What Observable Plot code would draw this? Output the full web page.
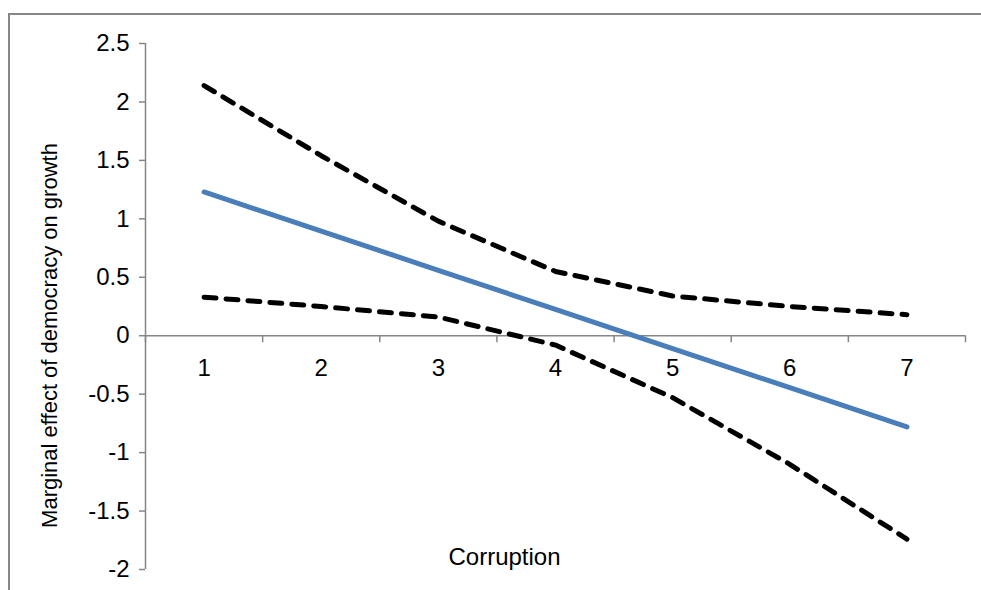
<!DOCTYPE html>
<html>
<head>
<meta charset="utf-8">
<script src="https://cdn.jsdelivr.net/npm/d3@7"></script>
<script src="https://cdn.jsdelivr.net/npm/@observablehq/plot@0.6"></script>
<style>
  html, body { margin: 0; padding: 0; background: #fff; overflow: hidden; }
  #wrap { position: relative; width: 981px; height: 590px; }
  #frame { position: absolute; left: 8px; top: 13px; width: 2000px; height: 2000px;
           border-top: 2px solid #878787; border-left: 2px solid #878787; box-sizing: border-box; }
  #chart { position: absolute; left: 0; top: 0; }
</style>
</head>
<body>
<div id="wrap"><div id="frame"></div><div id="chart"></div></div>
<script>
const categories = [1, 2, 3, 4, 5, 6, 7];
const xTickLabels = ["1", "2", "3", "4", "5", "6", "7"];
const marginalEffect = [1.23, 0.895, 0.56, 0.225, -0.11, -0.445, -0.78];
const upperBound = [2.14, 1.54, 0.98, 0.55, 0.34, 0.25, 0.18];
const lowerBound = [0.33, 0.25, 0.16, -0.08, -0.53, -1.1, -1.74];
const yTicks = [-2, -1.5, -1, -0.5, 0, 0.5, 1, 1.5, 2, 2.5];
const xTitle = "Corruption";
const yTitle = "Marginal effect of democracy on growth";

const rows = categories.map((c, i) => ({
  c, mid: marginalEffect[i], up: upperBound[i], lo: lowerBound[i]
}));
const boundaries = [categories[0] - 0.5, ...categories.map(c => c + 0.5)];
const axisColor = "#868686";
const fs = 24;

const chart = Plot.plot({
  width: 981,
  height: 590,
  marginLeft: 145,
  marginRight: 16,
  marginTop: 43,
  marginBottom: 21,
  x: { type: "linear", domain: [boundaries[0], boundaries[boundaries.length - 1]], axis: null },
  y: { domain: [yTicks[0], yTicks[yTicks.length - 1]], axis: null },
  style: { fontFamily: "'Liberation Sans', Arial, sans-serif", background: "transparent", color: "#000" },
  marks: [
    Plot.ruleY([0], { stroke: axisColor, strokeWidth: 1.5 }),
    Plot.ruleX([boundaries[0]], { stroke: axisColor, strokeWidth: 1.5 }),
    Plot.ruleX(boundaries, { y1: 0, y2: 0, insetBottom: -7, stroke: axisColor, strokeWidth: 1.5 }),
    Plot.ruleY(yTicks, { y: d => d, x1: boundaries[0], x2: boundaries[0], insetLeft: -6, stroke: axisColor, strokeWidth: 1.5 }),
    Plot.text(yTicks, { x: boundaries[0], y: d => d, text: d => String(d), textAnchor: "end", dx: -16, fontSize: fs, fill: "#000" }),
    Plot.text(categories, { x: d => d, y: 0, text: (d, i) => xTickLabels[i], dy: 33, fontSize: fs, fill: "#000" }),
    Plot.line(rows, { x: "c", y: "up", stroke: "#000", strokeWidth: 5, strokeDasharray: "12,10", strokeLinecap: "round", strokeLinejoin: "round" }),
    Plot.line(rows, { x: "c", y: "lo", stroke: "#000", strokeWidth: 5, strokeDasharray: "12,10", strokeLinecap: "round", strokeLinejoin: "round" }),
    Plot.line(rows, { x: "c", y: "mid", stroke: "#4A7EBB", strokeWidth: 5, strokeLinecap: "round", strokeLinejoin: "round" }),
    Plot.text([xTitle], { frameAnchor: "bottom", textAnchor: "middle", lineAnchor: "middle", dx: -51, dy: -12, fontSize: fs, fill: "#000" }),
    Plot.text([yTitle], { frameAnchor: "left", textAnchor: "middle", lineAnchor: "middle", rotate: -90, dx: -96, dy: 29, fontSize: 22, fill: "#000" })
  ]
});
document.getElementById("chart").appendChild(chart);
</script>
</body>
</html>
